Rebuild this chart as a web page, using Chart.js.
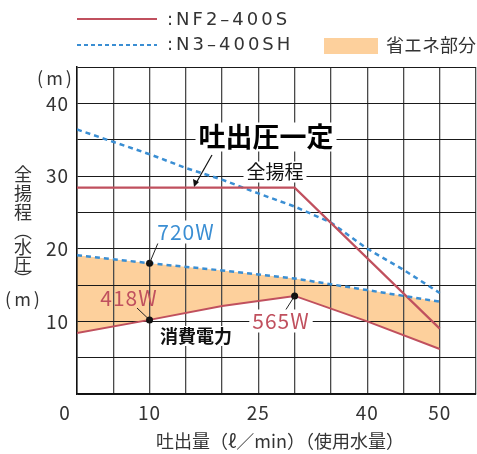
<!DOCTYPE html>
<html>
<head>
<meta charset="utf-8">
<script src="https://cdn.jsdelivr.net/npm/chart.js@4.4.0/dist/chart.umd.min.js"></script>
<style>
body { margin: 0; background: #fff; }
#wrap { width: 477px; height: 454px; }
</style>
</head>
<body>
<div id="wrap"><canvas id="graphique" width="477" height="454"></canvas></div>
<script>
// Valeurs (debit l/min -> hauteur m)
var flowX = [0, 10, 20, 30, 40, 50];
var headNF2X = [0, 30, 50];
var headNF2 = [28.4, 28.4, 9.0];
var headN3X = [0, 10, 15, 20, 25, 30, 35, 40, 45, 50];
var headN3 = [36.4, 33.0, 31.1, 29.5, 27.6, 25.8, 23.6, 20.0, 17.1, 13.9];
var powerN3 = [19.1, 18.0, 17.0, 15.9, 14.3, 12.7];
var powerNF2 = [8.4, 10.2, 12.1, 13.5, 10.0, 6.2];
var xTicks = [0, 10, 25, 40, 50];
var yTicks = [10, 20, 30, 40];
var seriesNames = [":NF2\u2013400S", ":N3\u2013400SH", "省エネ部分"];

var RED = "#c0505e";
var BLUE = "#3a8ed3";
var ORANGE = "#fdd09c";
var JP = "'Noto Sans CJK JP', 'Noto Sans', sans-serif";

function pts(xs, ys) {
  return ys.map(function (v, i) { return { x: xs[i], y: v }; });
}

// texte avec fond optionnel
function texte(ctx, t, x, y, font, color, bg) {
  ctx.font = font;
  ctx.textAlign = "center";
  ctx.textBaseline = "middle";
  if (bg) {
    var w = ctx.measureText(t).width;
    var h = parseInt(font.match(/(\d+)px/)[1], 10);
    ctx.fillStyle = bg;
    ctx.fillRect(x - w / 2 - 3, y - h / 2 - 1, w + 6, h + 2);
  }
  ctx.fillStyle = color;
  ctx.fillText(t, x, y);
}

function trait(ctx, x1, y1, x2, y2, color, w) {
  ctx.strokeStyle = color;
  ctx.lineWidth = w;
  ctx.beginPath();
  ctx.moveTo(x1, y1);
  ctx.lineTo(x2, y2);
  ctx.stroke();
}

var decor = {
  id: "decor",
  afterDatasetsDraw: function (chart) {
    var ctx = chart.ctx;
    var sx = chart.scales.x, sy = chart.scales.y;
    ctx.save();
    ctx.setLineDash([]);

    // fleche "吐出圧一定"
    trait(ctx, 212, 155, 195, 185, "#111", 1.2);
    ctx.fillStyle = "#111";
    ctx.beginPath();
    ctx.moveTo(194, 187);
    ctx.lineTo(193, 179);
    ctx.lineTo(199, 182);
    ctx.closePath();
    ctx.fill();
    texte(ctx, "吐出圧一定", 266, 137, "bold 27px " + JP, "#000", "#fff");
    texte(ctx, "全揚程", 275, 172, "19px " + JP, "#111", "#fff");

    // lignes de rappel vers les points
    var p1x = sx.getPixelForValue(flowX[1]);
    trait(ctx, 158, 243, p1x, sy.getPixelForValue(powerN3[1]), "#222", 1);
    trait(ctx, 137, 308, p1x, sy.getPixelForValue(powerNF2[1]), "#222", 1);
    trait(ctx, 285, 311, sx.getPixelForValue(flowX[3]), sy.getPixelForValue(powerNF2[3]), "#222", 1);

    ctx.letterSpacing = "1px";
    texte(ctx, "720W", 186, 232, "21px " + JP, BLUE, "#fff");
    texte(ctx, "418W", 129, 298, "21px " + JP, RED, null);
    texte(ctx, "565W", 281, 321, "21px " + JP, RED, "#fff");
    ctx.letterSpacing = "0px";
    texte(ctx, "消費電力", 196, 336, "bold 18px " + JP, "#111", "#fff");
    ctx.restore();
  },
  afterDraw: function (chart) {
    var ctx = chart.ctx;
    var sx = chart.scales.x, sy = chart.scales.y;
    ctx.save();

    // graduations
    ctx.font = "19px " + JP;
    ctx.letterSpacing = "1px";
    ctx.fillStyle = "#333";
    ctx.textBaseline = "middle";
    ctx.textAlign = "right";
    yTicks.forEach(function (v) {
      ctx.fillText(String(v), 69, sy.getPixelForValue(v));
    });
    ctx.textAlign = "center";
    xTicks.forEach(function (v) {
      var px = sx.getPixelForValue(v);
      if (v === 0) px -= 12;
      ctx.fillText(String(v), px, 413);
    });

    // titres des axes
    ctx.letterSpacing = "3px";
    texte(ctx, "(m)", 56, 78, "18px " + JP, "#333", null);
    texte(ctx, "(m)", 24, 299, "18px " + JP, "#333", null);
    ctx.letterSpacing = "0px";
    var chars = ["全", "揚", "程", "︵", "水", "圧", "︶"];
    var ys = [174, 193, 212, 231, 247, 264, 279];
    chars.forEach(function (c, i) {
      texte(ctx, c, 23, ys[i], "18px " + JP, "#333", null);
    });
    texte(ctx, "吐出量（ℓ／min）（使用水量）", 280, 441, "18px " + JP, "#333", null);

    // legende
    ctx.setLineDash([]);
    trait(ctx, 77, 19, 157, 19, RED, 2);
    ctx.setLineDash([4, 3]);
    trait(ctx, 77, 45, 157, 45, BLUE, 2);
    ctx.setLineDash([]);
    ctx.font = "18px 'DejaVu Sans', sans-serif";
    ctx.letterSpacing = "3px";
    ctx.fillStyle = "#333";
    ctx.textAlign = "left";
    ctx.textBaseline = "middle";
    ctx.fillText(seriesNames[0], 167, 20);
    ctx.fillText(seriesNames[1], 167, 45);
    ctx.letterSpacing = "0px";
    ctx.fillStyle = ORANGE;
    ctx.fillRect(324, 38, 54, 16);
    ctx.font = "18px " + JP;
    ctx.fillStyle = "#333";
    ctx.fillText(seriesNames[2], 386, 45);
    ctx.restore();
  }
};

var ctx = document.getElementById("graphique").getContext("2d");
var chart = new Chart(ctx, {
  type: "line",
  data: {
    datasets: [
      {
        data: pts(flowX, powerN3),
        borderColor: BLUE,
        borderWidth: 2.5,
        borderDash: [5, 4],
        fill: { target: 1 },
        backgroundColor: ORANGE,
        pointRadius: [0, 3.5, 0, 0, 0, 0],
        pointBackgroundColor: "#111",
        pointBorderWidth: 0
      },
      {
        data: pts(flowX, powerNF2),
        borderColor: RED,
        borderWidth: 2,
        fill: false,
        pointRadius: [0, 3.5, 0, 3.5, 0, 0],
        pointBackgroundColor: "#111",
        pointBorderWidth: 0
      },
      {
        data: pts(headNF2X, headNF2),
        borderColor: RED,
        borderWidth: 2.2,
        fill: false,
        pointRadius: 0
      },
      {
        data: pts(headN3X, headN3),
        borderColor: BLUE,
        borderWidth: 2.5,
        borderDash: [5, 4],
        fill: false,
        pointRadius: 0
      }
    ]
  },
  options: {
    responsive: false,
    animation: false,
    layout: { padding: { left: 77, top: 67, right: 1, bottom: 60 } },
    elements: { line: { tension: 0 } },
    plugins: {
      legend: { display: false },
      tooltip: { enabled: false },
      filler: { drawTime: "beforeDraw" }
    },
    scales: {
      x: {
        type: "linear", min: 0, max: 55,
        ticks: { display: false, stepSize: 5 },
        grid: { color: "#4a4a4a", lineWidth: 1.3, drawTicks: false },
        border: { color: "#111", width: 1.5 }
      },
      y: {
        type: "linear", min: 0, max: 45,
        ticks: { display: false, stepSize: 5 },
        grid: { color: "#1a1a1a", lineWidth: 1, drawTicks: false },
        border: { color: "#111", width: 1.5 }
      }
    }
  },
  plugins: [decor]
});
</script>
</body>
</html>
